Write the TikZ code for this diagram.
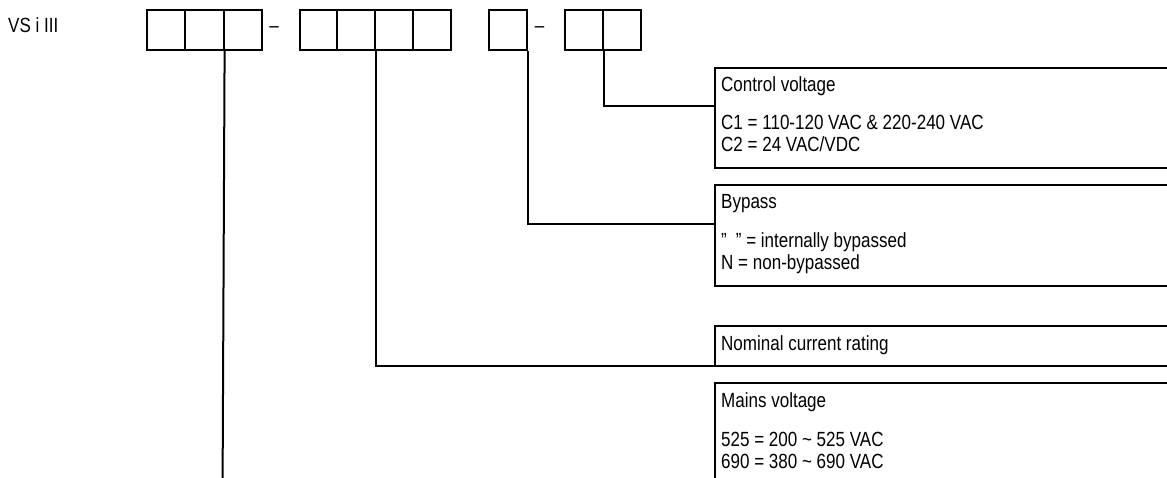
\documentclass[tikz,border=0pt]{standalone}
\usepackage{fontspec}
\setmainfont[FakeStretch=0.83]{Liberation Sans}
\begin{document}
\begin{tikzpicture}[x=1pt,y=-1pt,
  cell/.style={draw, line width=2pt, minimum height=40pt, inner sep=0pt, anchor=north west},
  wire/.style={line width=2pt},
  lbl/.style={anchor=base west, inner sep=0pt, font=\fontsize{20.5}{24}\selectfont},
]
\useasboundingbox (0,0) rectangle (1167,477);
% code label
\node[lbl] (vs) at (8,32) {VS i III};
% group 1
\node[cell, minimum width=38.3pt] (a1) at (146,9) {};
\node[cell, minimum width=38.3pt] (a2) at (184.3,9) {};
\node[cell, minimum width=38.3pt] (a3) at (222.6,9) {};
\node[lbl, anchor=center] (dash1) at (274,30) {\textendash};
% group 2
\node[cell, minimum width=37.8pt] (b1) at (298.5,9) {};
\node[cell, minimum width=37.8pt] (b2) at (336.3,9) {};
\node[cell, minimum width=37.8pt] (b3) at (374.1,9) {};
\node[cell, minimum width=37.8pt] (b4) at (411.9,9) {};
% group 3
\node[cell, minimum width=38pt] (c1) at (487.7,9) {};
\node[lbl, anchor=center] (dash2) at (539.5,30) {\textendash};
% group 4
\node[cell, minimum width=38.4pt] (d1) at (563.5,9) {};
\node[cell, minimum width=38.4pt] (d2) at (601.9,9) {};

% right-hand boxes (open to the right)
\coordinate (cvT) at (715,67.5);  \coordinate (cvB) at (715,167.7); \coordinate (cvIn) at (715,106);
\coordinate (byT) at (715,185.3); \coordinate (byB) at (715,285.7); \coordinate (byIn) at (715,224);
\coordinate (noT) at (715,325.7); \coordinate (noB) at (715,365.7);
\coordinate (maT) at (715,382.7); \coordinate (maB) at (715,480);
\coordinate (bottom) at (222.6,480);

\draw[wire] (1170,67.5) -- (cvT) -- (cvB) -- (1170,167.7);
\draw[wire] (1170,185.3) -- (byT) -- (byB) -- (1170,285.7);
\draw[wire] (1170,325.7) -- (noT) -- (noB) -- (1170,365.7);
\draw[wire] (1170,382.7) -- (maT) -- (maB);

% connectors
\draw[wire] (d1.south east) |- (cvIn);
\draw[wire] (c1.south east) |- (byIn);
\draw[wire] (b2.south east) |- (noB);
\draw[wire] (a2.south east) -- (bottom);

% texts
\node[lbl] (cv1) at (721,91) {Control voltage};
\node[lbl] (cv2) at (721,129.5) {C1 = 110-120 VAC \& 220-240 VAC};
\node[lbl] (cv3) at (721,151.5) {C2 = 24 VAC/VDC};
\node[lbl] (by1) at (721,208.8) {Bypass};
\node[lbl] (by2) at (721,247.3) {{\char34}\hspace{9pt}{\char34} = internally bypassed};
\node[lbl] (by3) at (721,269.3) {N = non-bypassed};
\node[lbl] (no1) at (721,350) {Nominal current rating};
\node[lbl] (ma1) at (721,407.5) {Mains voltage};
\node[lbl] (ma2) at (721,446) {525 = 200 \textasciitilde{} 525 VAC};
\node[lbl] (ma3) at (721,468) {690 = 380 \textasciitilde{} 690 VAC};
\end{tikzpicture}
\end{document}
